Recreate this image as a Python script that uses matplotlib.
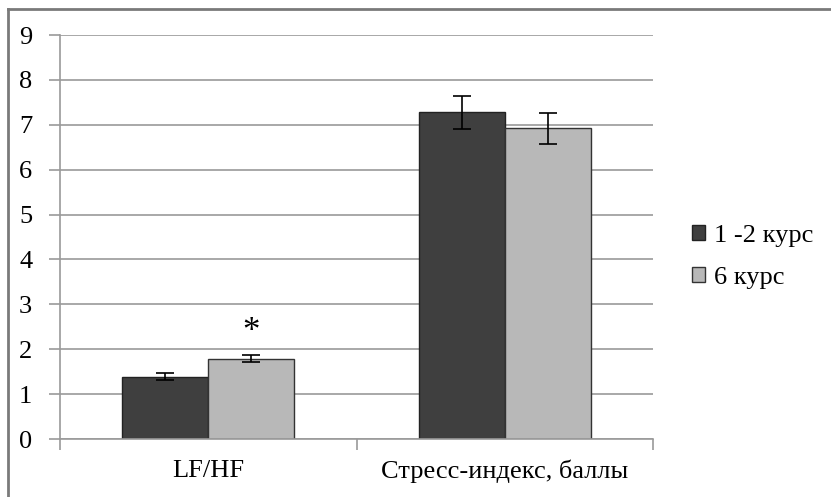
import numpy as np
import matplotlib.pyplot as plt
from matplotlib.lines import Line2D

plt.rcParams['font.family'] = ['Liberation Serif', 'DejaVu Serif']

categorias = ['LF/HF', 'Стресс-индекс, баллы']
grupos = ['1 -2 курс', '6 курс']
valores_12 = [1.39, 7.28]
errores_12 = [0.07, 0.37]
valores_6 = [1.79, 6.92]
errores_6 = [0.085, 0.35]
marca_6 = ['*', '']

color_oscuro = '#3f3f3f'
color_claro = '#b8b8b8'
color_gris = '#9a9a9a'

fig = plt.figure(figsize=(8.31, 4.97), dpi=100)
ax = fig.add_axes([60 / 831, 1 - 439 / 497, (653 - 60) / 831, (439 - 35) / 497])

x = np.arange(len(categorias))
ancho = 0.29
err_kw = dict(ecolor='black', elinewidth=1.2, capsize=6.5, capthick=1.2)

ax.bar(x - ancho / 2, valores_12, ancho, yerr=errores_12, color=color_oscuro,
       edgecolor='#222222', linewidth=1, error_kw=err_kw, label=grupos[0], zorder=2)
ax.bar(x + ancho / 2, valores_6, ancho, yerr=errores_6, color=color_claro,
       edgecolor='#333333', linewidth=1, error_kw=err_kw, label=grupos[1], zorder=2)

# asterisco de significancia
for i, m in enumerate(marca_6):
    if m:
        ax.text(x[i] + ancho / 2, valores_6[i] + errores_6[i] + 0.5, m,
                ha='center', va='center', fontsize=25)

ax.set_xlim(-0.5, 1.5)
ax.set_ylim(0, 9)
ax.set_yticks(range(0, 10))
ax.yaxis.grid(True, color=color_gris, linewidth=1.2, zorder=0)
ax.set_axisbelow(True)

ax.set_xticks(x)
ax.set_xticklabels(categorias)
ax.set_xticks([-0.5, 0.5, 1.5], minor=True)
ax.tick_params(axis='x', which='major', length=0, pad=15, labelsize=19)
ax.tick_params(axis='x', which='minor', length=8, color=color_gris, width=1.2)
ax.tick_params(axis='y', length=8, color=color_gris, width=1.2, pad=12, labelsize=19)

for lado in ['top', 'right']:
    ax.spines[lado].set_visible(False)
for lado in ['left', 'bottom']:
    ax.spines[lado].set_color(color_gris)
    ax.spines[lado].set_linewidth(1.2)

ax.legend(loc='center left', bbox_to_anchor=(1.025, 0.45), frameon=False, fontsize=19,
          handlelength=0.5, handleheight=0.5, handletextpad=0.35, labelspacing=0.75)

# marco exterior (solo superior e izquierdo visibles)
fig.add_artist(Line2D([8 / 831, 8 / 831], [0, 1 - 9 / 497], transform=fig.transFigure,
                      color='#7a7a7a', linewidth=2))
fig.add_artist(Line2D([8 / 831, 1], [1 - 9 / 497, 1 - 9 / 497], transform=fig.transFigure,
                      color='#7a7a7a', linewidth=2))

fig.savefig('out.png', dpi=100)
